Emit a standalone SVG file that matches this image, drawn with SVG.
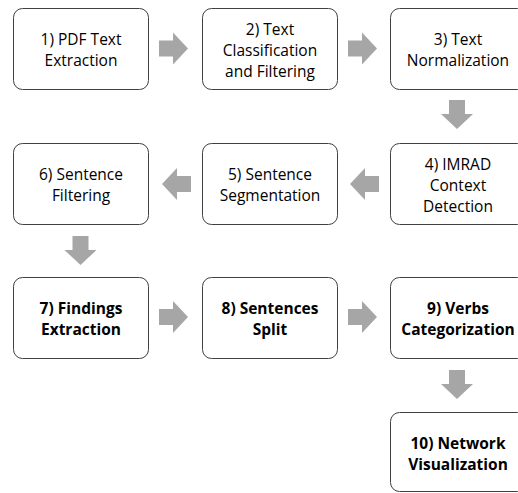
<svg xmlns="http://www.w3.org/2000/svg" width="518" height="493" viewBox="0 0 518 493">
<style>
.box{fill:#ffffff;stroke:#404040;stroke-width:1}
.t{font-family:"Open Sans","Liberation Sans",sans-serif;font-size:15.5px;fill:#000;text-anchor:middle}
.b{font-weight:bold}
.arr{fill:#a6a6a6}
</style>
<defs>
<path id="ar" d="M0,-8 H14 V-16 L29,0 L14,16 V8 H0 Z"/>
<path id="al" d="M0,-8 H-14 V-16 L-29,0 L-14,16 V8 H0 Z"/>
<path id="ad" d="M-8,0 H8 V14 H16 L0,29 L-16,14 H-8 Z"/>
</defs>
<rect width="518" height="493" fill="#ffffff"/>
<g id="connectors" class="arr">
<use href="#ar" x="159" y="48.5"/>
<use href="#ar" x="348" y="48.5"/>
<use href="#ad" x="457" y="100"/>
<use href="#al" x="379" y="184"/>
<use href="#al" x="191" y="184"/>
<use href="#ad" x="80.5" y="236"/>
<use href="#ar" x="159" y="317"/>
<use href="#ar" x="348" y="317"/>
<use href="#ad" x="457" y="370"/>
</g>
<g id="n1"><rect class="box" x="13.5" y="8.5" width="135" height="81" rx="9"/>
<text class="t" x="81" y="44.5">1) PDF Text</text><text class="t" x="81" y="65.5">Extraction</text></g>
<g id="n2"><rect class="box" x="202.5" y="8.5" width="135" height="81" rx="9"/>
<text class="t" x="270" y="34.5">2) Text</text><text class="t" x="270" y="55.5">Classification</text><text class="t" x="270" y="76.5">and Filtering</text></g>
<g id="n3"><rect class="box" x="390.5" y="8.5" width="136" height="81" rx="9"/>
<text class="t" x="458" y="44.5">3) Text</text><text class="t" x="458" y="65.5">Normalization</text></g>
<g id="n4"><rect class="box" x="390.5" y="143.5" width="136" height="81" rx="9"/>
<text class="t" x="458" y="169.5">4) IMRAD</text><text class="t" x="458" y="190.5">Context</text><text class="t" x="458" y="211.5">Detection</text></g>
<g id="n5"><rect class="box" x="202.5" y="143.5" width="135" height="81" rx="9"/>
<text class="t" x="270" y="179.5">5) Sentence</text><text class="t" x="270" y="200.5">Segmentation</text></g>
<g id="n6"><rect class="box" x="13.5" y="143.5" width="135" height="81" rx="9"/>
<text class="t" x="81" y="179.5">6) Sentence</text><text class="t" x="81" y="200.5">Filtering</text></g>
<g id="n7"><rect class="box" x="13.5" y="277.5" width="135" height="81" rx="9"/>
<text class="t b" x="81" y="313.5">7) Findings</text><text class="t b" x="81" y="334.5">Extraction</text></g>
<g id="n8"><rect class="box" x="202.5" y="277.5" width="135" height="81" rx="9"/>
<text class="t b" x="270" y="313.5">8) Sentences</text><text class="t b" x="270" y="334.5">Split</text></g>
<g id="n9"><rect class="box" x="390.5" y="277.5" width="136" height="81" rx="9"/>
<text class="t b" x="458" y="313.5">9) Verbs</text><text class="t b" x="458" y="334.5">Categorization</text></g>
<g id="n10"><rect class="box" x="390.5" y="412.5" width="136" height="79" rx="9"/>
<text class="t b" x="458" y="448.5">10) Network</text><text class="t b" x="458" y="469.5">Visualization</text></g>
</svg>
